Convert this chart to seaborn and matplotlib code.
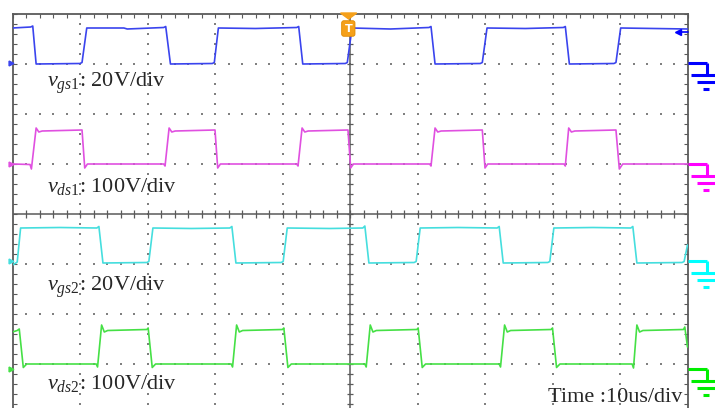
"""
Oscillogrammes vgs1 / vds1 / vgs2 / vds2 (capture d'oscilloscope)
"""
import numpy as np
import matplotlib
matplotlib.use("Agg")
import matplotlib.pyplot as plt
import matplotlib.patches as mpatches
import seaborn as sns

t_gs1 = [-50.0, -47.3, -47.0, -46.5,
         -40.0, -39.7, -39.0, -33.5, -33.0, -27.6, -27.3, -26.6,
         -20.4, -20.1, -19.5, -14.0, -7.9, -7.6, -7.0,
         -0.7, -0.4, 0.3, 6.0, 11.7, 12.0, 12.6,
         19.3, 19.6, 20.3, 26.0, 31.6, 31.9, 32.5,
         39.1, 39.4, 40.1, 50.0]
v_gs1 = [3.72, 3.74, 3.76, 3.00,
         3.01, 3.03, 3.72, 3.72, 3.70, 3.73, 3.75, 3.00,
         3.01, 3.03, 3.72, 3.71, 3.73, 3.75, 3.00,
         3.01, 3.03, 3.72, 3.70, 3.73, 3.75, 3.00,
         3.01, 3.03, 3.72, 3.71, 3.73, 3.75, 3.00,
         3.01, 3.03, 3.72, 3.70]

t_ds1 = [-50.0, -47.4, -47.2, -46.5, -46.1, -45.6,
         -39.7, -39.3, -38.9,
         -27.6, -27.4, -26.8, -26.4, -25.9,
         -20.0, -19.6, -19.2,
         -7.9, -7.7, -7.1, -6.7, -6.2,
         -0.3, 0.1, 0.5,
         11.8, 12.0, 12.6, 13.0, 13.5,
         19.6, 20.0, 20.4,
         31.7, 31.9, 32.4, 32.8, 33.3,
         39.4, 39.9, 40.4, 50.0]
v_ds1 = [1.00, 0.99, 0.90, 1.72, 1.64, 1.66,
         1.68, 0.92, 1.00,
         1.00, 0.96, 1.72, 1.64, 1.66,
         1.68, 0.92, 1.00,
         1.00, 0.96, 1.72, 1.64, 1.66,
         1.68, 0.92, 1.00,
         1.00, 0.96, 1.72, 1.64, 1.66,
         1.68, 0.92, 1.00,
         1.00, 0.96, 1.72, 1.64, 1.66,
         1.68, 0.90, 1.00, 1.00]

t_gs2 = [-50.0, -49.5, -49.3, -48.8,
         -43.0, -37.5, -37.2, -36.6,
         -30.1, -29.8, -29.2, -23.5, -17.8, -17.5, -16.9,
         -10.2, -9.9, -9.3, -3.0, 1.9, 2.2, 2.8,
         9.5, 9.8, 10.4, 16.0, 21.8, 22.1, 22.7,
         29.3, 29.6, 30.2, 36.0, 41.6, 41.9, 42.5,
         49.2, 49.5, 50.0]
v_gs2 = [-1.02, -0.98, -0.96, -0.28,
         -0.27, -0.28, -0.25, -0.98,
         -0.97, -0.95, -0.28, -0.29, -0.28, -0.25, -0.98,
         -0.97, -0.95, -0.28, -0.29, -0.28, -0.24, -0.98,
         -0.97, -0.95, -0.28, -0.27, -0.28, -0.25, -0.98,
         -0.97, -0.95, -0.28, -0.27, -0.28, -0.25, -0.98,
         -0.97, -0.95, -0.62]

t_ds2 = [-50.0, -49.3, -49.0, -48.4, -47.9,
         -37.6, -37.4, -36.8, -36.4, -35.9,
         -30.1, -29.9, -29.3, -28.8,
         -17.6, -17.4, -16.8, -16.4, -15.9,
         -10.0, -9.8, -9.2, -8.7,
         2.2, 2.4, 3.0, 3.4, 3.9,
         9.9, 10.1, 10.7, 11.2,
         22.1, 22.3, 22.9, 23.3, 23.8,
         29.8, 30.0, 30.6, 31.1,
         41.8, 42.0, 42.5, 42.9, 43.4,
         49.4, 49.6, 50.0]
v_ds2 = [-2.36, -2.33, -2.30, -3.07, -3.00,
         -3.00, -3.06, -2.22, -2.36, -2.33,
         -2.31, -2.28, -3.07, -3.00,
         -3.00, -3.06, -2.22, -2.36, -2.33,
         -2.31, -2.28, -3.07, -3.00,
         -3.00, -3.06, -2.22, -2.36, -2.33,
         -2.31, -2.28, -3.07, -3.00,
         -3.00, -3.06, -2.22, -2.36, -2.33,
         -2.31, -2.28, -3.07, -3.00,
         -3.00, -3.08, -2.22, -2.36, -2.33,
         -2.31, -2.26, -2.66]

channels = ["vgs1", "vds1", "vgs2", "vds2"]
trace_colors = ["#3a44ee", "#e050e0", "#45dede", "#45e045"]
gnd_colors = ["#0000ff", "#ff00ff", "#00ffff", "#00ee00"]
gnd_levels = [3.02, 1.0, -0.94, -3.1]
labels = [r"$v_{\mathit{gs1}}$: 20V/div", r"$v_{\mathit{ds1}}$: 100V/div",
          r"$v_{\mathit{gs2}}$: 20V/div", r"$v_{\mathit{ds2}}$: 100V/div"]
label_y = [2.54, 0.44, -1.54, -3.5]
time_label = "Time :10us/div"

# ── Style ───────────────────────────────────────────────────────────────────
sns.set_style("white")
plt.rcParams["font.family"] = ["Liberation Serif", "DejaVu Serif"]
plt.rcParams["mathtext.fontset"] = "custom"
plt.rcParams["mathtext.rm"] = "Liberation Serif"
plt.rcParams["mathtext.it"] = "Liberation Serif:italic"

fig = plt.figure(figsize=(7.15, 4.08), dpi=100)
ax = fig.add_axes([12.5 / 715, 0, 675 / 715, 394 / 408])
ax.set_xlim(-50, 50)
ax.set_ylim(-3.88, 4)

grid_c = "#808080"
frame_c = "#5a5a5a"
orange = "#f5a01a"

# grille pointillée
for gx in [-40, -30, -20, -10, 10, 20, 30, 40]:
    ys = np.arange(-3.8, 4.0, 0.2)
    ax.scatter(np.full(len(ys), gx), ys, marker="s", s=1.5, color=grid_c,
               linewidths=0, zorder=1)
for gy in [-3, -2, -1, 1, 2, 3]:
    xs = np.arange(-48, 50, 2)
    ax.scatter(xs, np.full(len(xs), gy), marker="s", s=1.5, color=grid_c,
               linewidths=0, zorder=1)

# axes centraux
ax.axvline(0, color=frame_c, lw=1.1, zorder=1)
ax.axhline(0, color=frame_c, lw=1.1, zorder=1)
xs = np.arange(-48, 50, 2)
ax.scatter(xs, np.zeros(len(xs)), marker="|", s=30, color=frame_c,
           linewidths=0.9, zorder=1)
ys = np.arange(-3.8, 4.0, 0.2)
ax.scatter(np.zeros(len(ys)), ys, marker="_", s=22, color=frame_c,
           linewidths=0.9, zorder=1)

# cadre
for side in ["left", "top", "right"]:
    ax.spines[side].set_color(frame_c)
    ax.spines[side].set_linewidth(1.3)
ax.spines["bottom"].set_visible(False)
ax.set_xticks(np.arange(-50, 51, 2))
ax.set_yticks(np.arange(-3.8, 4.01, 0.2))
ax.tick_params(axis="both", direction="in", length=3, width=0.8, color=frame_c,
               top=True, bottom=False, left=True, right=True,
               labelbottom=False, labelleft=False)

# ── Traces ──────────────────────────────────────────────────────────────────
traces = [(t_gs1, v_gs1), (t_ds1, v_ds1), (t_gs2, v_gs2), (t_ds2, v_ds2)]
for (tt, vv), col in zip(traces, trace_colors):
    sns.lineplot(x=tt, y=vv, color=col, lw=1.2, estimator=None, sort=False,
                 ax=ax, zorder=3)

# repères de masse (à droite) et flèches (à gauche)
for lvl, gc, tc in zip(gnd_levels, gnd_colors, trace_colors):
    kw = dict(color=gc, lw=2.2, clip_on=False, solid_capstyle="butt", zorder=4)
    ax.plot([50.0, 52.9], [lvl, lvl], **kw)
    ax.plot([52.9, 52.9], [lvl, lvl - 0.24], **kw)
    ax.plot([50.5, 54.2], [lvl - 0.24, lvl - 0.24], **kw)
    ax.plot([51.4, 54.2], [lvl - 0.38, lvl - 0.38], **kw)
    ax.plot([52.3, 53.2], [lvl - 0.52, lvl - 0.52], **kw)
    ax.plot([-50.2], [lvl], marker=">", ms=3.5, color=tc, clip_on=False,
            zorder=4)

# niveau de déclenchement
ax.plot([48.6, 50], [3.65, 3.65], color=gnd_colors[0], lw=1.2, clip_on=False, zorder=4)
ax.plot([48.6], [3.65], marker="<", ms=5, color=gnd_colors[0], clip_on=False, zorder=4)

# marqueur T
ax.text(-0.25, 3.71, "T", color="white", fontsize=8, fontweight="bold",
        family="DejaVu Sans", ha="center", va="center", zorder=6,
        bbox=dict(boxstyle="round,pad=0.25,rounding_size=0.2",
                  fc=orange, ec="#e08a00", lw=0.6))
ax.add_patch(mpatches.Polygon([(-1.4, 4.02), (1.0, 4.02), (-0.2, 3.9)],
                              closed=True, color=orange, clip_on=False, zorder=5))

# textes
for lab, ly in zip(labels, label_y):
    ax.text(-44.9, ly, lab, fontsize=16, ha="left", va="baseline", zorder=6)
ax.text(49.3, -3.76, time_label, fontsize=16, ha="right", va="baseline", zorder=6)

fig.savefig("out.png", dpi=100)
plt.close()
